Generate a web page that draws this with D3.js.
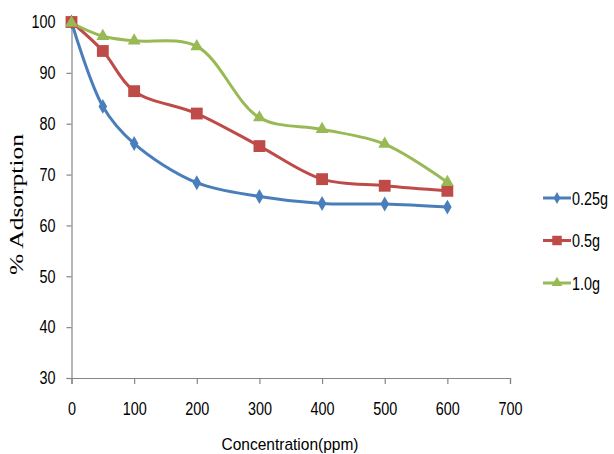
<!DOCTYPE html>
<html>
<head>
<meta charset="utf-8">
<script src="https://cdn.jsdelivr.net/npm/d3@7"></script>
<style>
  html, body { margin: 0; padding: 0; background: #fff; }
  svg { display: block; }
</style>
</head>
<body>
<svg id="chart" width="614" height="454"></svg>
<script>
// data
const concentration = [0, 50, 100, 200, 300, 400, 500, 600];
const dose025 = [100, 83.4, 76.1, 68.4, 65.7, 64.3, 64.2, 63.6];
const dose05 = [100, 94.3, 86.4, 82.0, 75.6, 69.1, 67.8, 66.8];
const dose10 = [99.8, 97.2, 96.3, 95.2, 81.2, 78.9, 76.0, 68.5];
const seriesNames = ['0.25g', '0.5g', '1.0g'];
const xTicks = [0, 100, 200, 300, 400, 500, 600, 700];
const yTicks = [30, 40, 50, 60, 70, 80, 90, 100];

const series = [
  { name: seriesNames[0], values: dose025, color: '#4A7EBB', symbol: d3.symbolDiamond, size: 64, legendSize: 40 },
  { name: seriesNames[1], values: dose05, color: '#BE4B48', symbol: d3.symbolSquare, size: 140, legendSize: 90 },
  { name: seriesNames[2], values: dose10, color: '#98B954', symbol: d3.symbolTriangle, size: 72, legendSize: 50 }
];

const svg = d3.select('#chart');
const sansFont = '"Liberation Sans", Arial, sans-serif';

// squeeze a text horizontally so it reads like the narrow office font of the original
function condense(sel, factor) {
  sel.each(function() {
    const w = this.getComputedTextLength();
    d3.select(this).attr('textLength', w * factor).attr('lengthAdjust', 'spacingAndGlyphs');
  });
}

const x = d3.scaleLinear().domain([0, 700]).range([71.5, 510]);
const y = d3.scaleLinear().domain([30, 100]).range([378, 22]);

// axes
const xAxis = svg.append('g')
    .attr('transform', `translate(0,${y(30)})`)
    .call(d3.axisBottom(x).tickValues(xTicks).tickSize(6).tickPadding(18));
const yAxis = svg.append('g')
    .attr('transform', `translate(${x(0)},0)`)
    .call(d3.axisLeft(y).tickValues(yTicks).tickSize(5).tickPadding(11));

[xAxis, yAxis].forEach(ax => {
  ax.select('.domain').attr('stroke', '#868686').attr('stroke-width', 1.2);
  ax.selectAll('.tick line').attr('stroke', '#868686').attr('stroke-width', 1.2);
  ax.selectAll('.tick text')
    .attr('fill', '#000')
    .style('font-family', sansFont)
    .style('font-size', '18px')
    .call(condense, 0.8);
});

// axis titles
svg.append('text')
    .attr('x', 290).attr('y', 450)
    .attr('text-anchor', 'middle')
    .attr('textLength', 137)
    .attr('lengthAdjust', 'spacingAndGlyphs')
    .style('font-family', sansFont)
    .style('font-size', '17px')
    .text('Concentration(ppm)');

svg.append('text')
    .attr('transform', 'translate(23,204.5) rotate(-90)')
    .attr('text-anchor', 'middle')
    .attr('textLength', 141)
    .attr('lengthAdjust', 'spacingAndGlyphs')
    .style('font-family', '"Liberation Serif", "DejaVu Serif", serif')
    .style('font-size', '19px')
    .text('% Adsorption');

// lines
const line = d3.line()
    .x((d, i) => x(concentration[i]))
    .y(d => y(d))
    .curve(d3.curveCatmullRom.alpha(0.5));

series.forEach(s => {
  svg.append('path')
      .datum(s.values)
      .attr('fill', 'none')
      .attr('stroke', s.color)
      .attr('stroke-width', 3)
      .attr('d', line);
});

series.forEach(s => {
  svg.append('g').selectAll('path')
    .data(s.values)
    .join('path')
      .attr('transform', (d, i) => `translate(${x(concentration[i])},${y(d)})`)
      .attr('d', d3.symbol(s.symbol, s.size))
      .attr('fill', s.color);
});

// legend
const legend = svg.append('g').attr('transform', 'translate(543,198)');
series.forEach((s, i) => {
  const g = legend.append('g').attr('transform', `translate(0,${i * 42.5})`);
  g.append('line')
      .attr('x1', 0).attr('x2', 28)
      .attr('stroke', s.color).attr('stroke-width', 3);
  g.append('path')
      .attr('transform', 'translate(14,0)')
      .attr('d', d3.symbol(s.symbol, s.legendSize))
      .attr('fill', s.color);
  // scaled with a transform so the label really stays inside the page
  g.append('text')
      .attr('transform', 'translate(29,6.5) scale(0.8,1)')
      .style('font-family', sansFont)
      .style('font-size', '18px')
      .text(s.name);
});
</script>
</body>
</html>
